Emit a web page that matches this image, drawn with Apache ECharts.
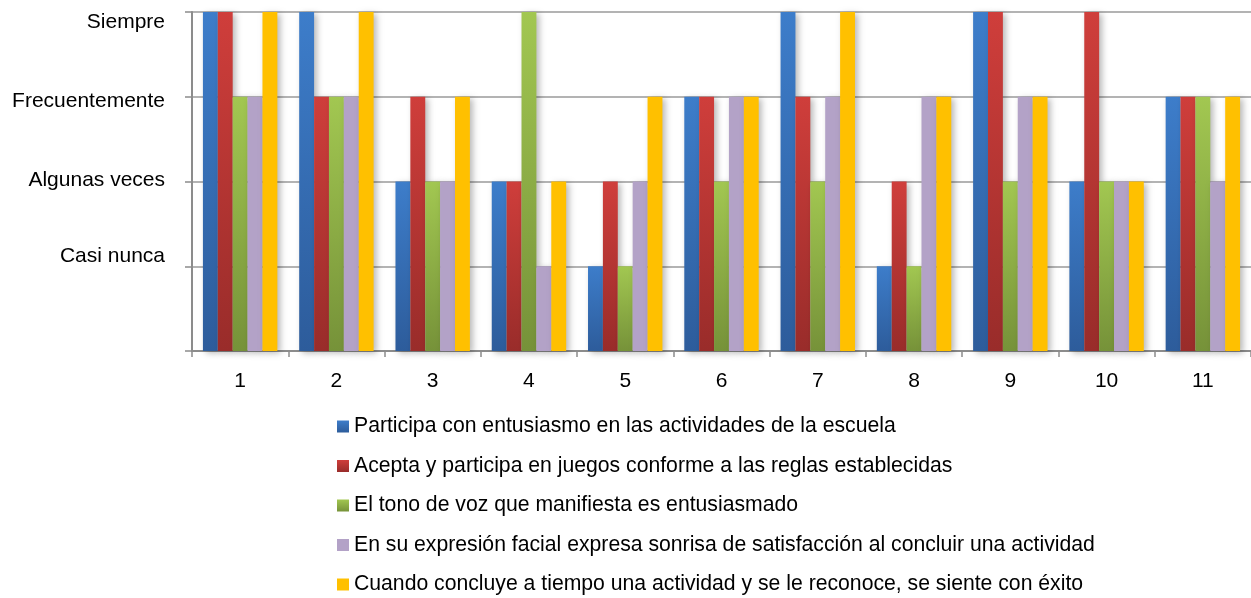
<!DOCTYPE html>
<html>
<head>
<meta charset="utf-8">
<script src="https://cdn.jsdelivr.net/npm/echarts@6/dist/echarts.min.js"></script>
<style>
html,body{margin:0;padding:0;background:#fff;}
#c{width:1251px;height:598px;}
</style>
</head>
<body>
<div id="c"></div>
<script>
var categories = ['1','2','3','4','5','6','7','8','9','10','11'];
var yLabels = ['', 'Casi nunca', 'Algunas veces', 'Frecuentemente', 'Siempre'];
var seriesNames = [
  'Participa con entusiasmo en las actividades de la escuela',
  'Acepta y participa en juegos conforme a las reglas establecidas',
  'El tono de voz que manifiesta es entusiasmado',
  'En su expresión facial expresa sonrisa de satisfacción al concluir una actividad',
  'Cuando concluye a tiempo una actividad y se le reconoce, se siente con éxito'
];
var entusiasmo = [4,4,2,2,1,3,4,1,4,2,3];
var reglas     = [4,3,3,2,2,3,3,2,4,4,3];
var tonoVoz    = [3,3,2,4,1,2,2,1,2,2,3];
var sonrisa    = [3,3,2,1,2,3,3,3,3,2,2];
var exito      = [4,4,3,2,3,3,4,3,3,2,3];
var seriesData = [entusiasmo, reglas, tonoVoz, sonrisa, exito];

function grad(top, bottom){
  return new echarts.graphic.LinearGradient(0,0,0,1,[{offset:0,color:top},{offset:1,color:bottom}]);
}
var colors = [
  grad('#3d7dca','#2d5c9b'),
  grad('#cf3e3b','#992c2a'),
  grad('#a2c751','#769239'),
  '#b3a2c7',
  '#ffc000'
];

var chart = echarts.init(document.getElementById('c'), null, {renderer:'canvas'});
var font = '"Liberation Sans", Arial, sans-serif';
var series = seriesNames.map(function(n,i){
  return {
    name: n,
    type: 'bar',
    data: seriesData[i],
    barGap: '0%',
    barCategoryGap: '22.7%',
    itemStyle: {
      color: colors[i],
      shadowColor: 'rgba(0,0,0,0.28)',
      shadowBlur: 6,
      shadowOffsetX: 3,
      shadowOffsetY: 2
    },
    emphasis: {disabled: true},
    animation: false
  };
});

chart.setOption({
  animation: false,
  grid: {left:192, top:12, width:1066, height:339, containLabel:false},
  xAxis: {
    type: 'category',
    data: categories,
    axisLine: {show:true, lineStyle:{color:'#8c8c8c', width:2}},
    axisTick: {show:true, alignWithLabel:false, length:6, lineStyle:{color:'#8c8c8c', width:1.5}},
    axisLabel: {color:'#000', fontFamily:font, fontSize:21, margin:20}
  },
  yAxis: {
    type: 'value',
    min: 0, max: 4, interval: 1,
    axisLine: {show:true, lineStyle:{color:'#8c8c8c', width:2}},
    axisTick: {show:true, length:7, lineStyle:{color:'#8c8c8c', width:1.5}},
    splitLine: {show:true, lineStyle:{color:'#9a9a9a', width:1.5}},
    axisLabel: {
      color:'#000', fontFamily:font, fontSize:21, margin:27,
      formatter: function(v){
        var t = yLabels[v] || '';
        if (!t) return '';
        var key = ['z','a','b','c','d'][v];
        return '{' + key + '|' + t + '}';
      },
      rich: {
        a: {fontFamily:font, fontSize:21, color:'#000', padding:[0,0,20,0]},
        b: {fontFamily:font, fontSize:21, color:'#000', padding:[0,0,2,0]},
        c: {fontFamily:font, fontSize:21, color:'#000', padding:[8,0,0,0]},
        d: {fontFamily:font, fontSize:21, color:'#000', padding:[20,0,0,0]}
      }
    }
  },
  legend: {
    orient: 'vertical',
    left: 337,
    top: 416,
    padding: 0,
    itemWidth: 12,
    itemHeight: 12,
    itemGap: 18.5,
    icon: 'rect',
    textStyle: {color:'#000', fontFamily:font, fontSize:21.2, lineHeight:21},
    data: seriesNames
  },
  series: series
});
</script>
</body>
</html>
